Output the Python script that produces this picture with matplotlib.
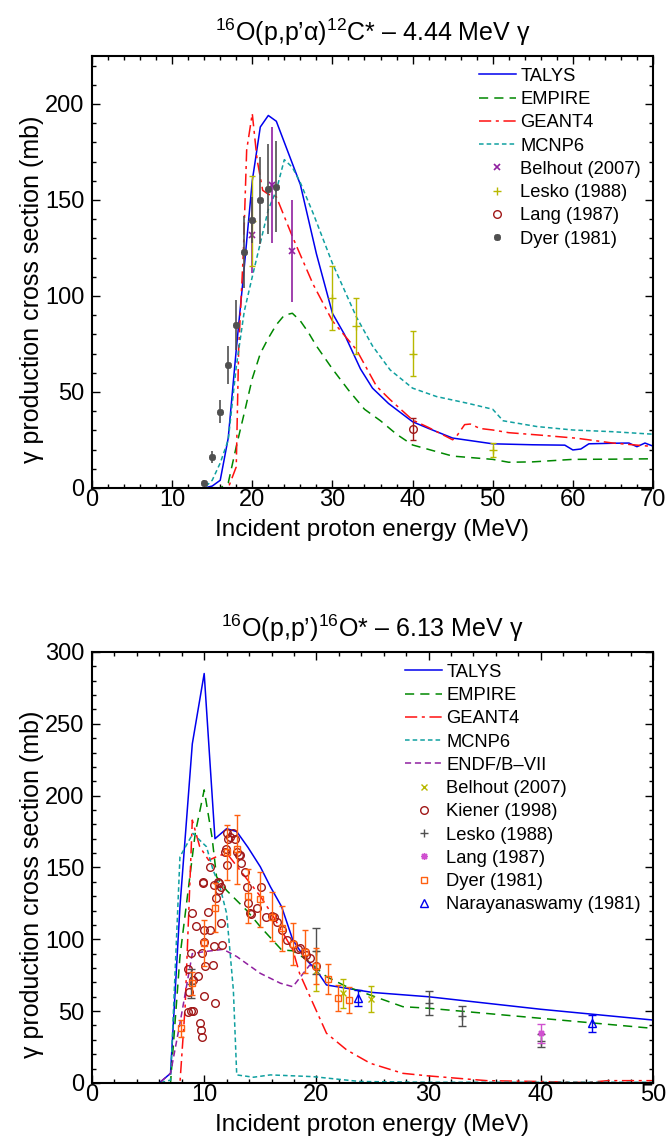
import matplotlib
matplotlib.use("Agg")
import matplotlib.pyplot as plt
from matplotlib.ticker import MultipleLocator

plt.rcParams['font.family'] = ['Liberation Sans', 'DejaVu Sans']
plt.rcParams['mathtext.fontset'] = 'custom'
plt.rcParams['mathtext.rm'] = 'Liberation Sans'
plt.rcParams['mathtext.it'] = 'Liberation Sans:italic'

# ---------------- top panel: 16O(p,p'a)12C* 4.44 MeV ----------------
talys_top_E = [0, 14, 15, 16, 17, 18, 19, 20, 21, 22, 23, 24, 25, 26, 28, 30, 31.5, 33.5, 35, 37, 40,
               42, 45, 50, 55, 59, 60, 61, 62, 65, 67, 68, 69, 70]
talys_top = [0, 0, 1, 4, 26, 72, 115, 160, 188, 194, 191, 180, 169, 158, 122, 91, 80, 62, 52, 44, 34.5,
             31, 26, 23, 22.5, 22.3, 19.8, 20.3, 23, 23.3, 23.4, 21.5, 23.4, 21.8]

empire_top_E = [0, 16, 17, 18, 19, 20, 21, 22, 23, 24, 25, 26, 27, 28, 30, 32, 34, 36, 38, 40, 45, 50,
                52, 55, 60, 65, 70]
empire_top = [0, 0, 2.6, 21.5, 39, 57, 70, 78, 85, 90, 91, 87, 81, 74, 62, 51, 41, 35, 28, 22.4, 16.6,
              14.9, 13.4, 13.6, 14.9, 15, 15.2]

geant_top_E = [0, 17, 18, 18.3, 18.9, 19.3, 20, 20.6, 21.3, 22, 23, 25, 27.6, 30, 33, 35.5, 37.2, 40,
               42, 45, 45.5, 46.5, 47.2, 48.4, 50, 52, 56, 60.5, 65, 70]
geant_top = [0, 0, 11, 72, 124, 176, 195, 171, 155, 153, 151.7, 131, 106, 87, 72, 53, 46, 35.4, 31.5,
             25.1, 27, 33, 33.3, 31, 30.2, 28.8, 27.5, 25.9, 23.4, 21.6]

mcnp_top_E = [0, 14, 15, 16, 17, 18, 19, 20, 21.2, 22, 23, 24, 25, 26, 27.6, 30, 33, 35, 37.2, 40, 43,
              47, 50, 51.3, 55.5, 60, 65, 70]
mcnp_top = [0, 0, 4, 13, 25, 63, 92, 110, 131, 145, 155, 171, 167, 159, 143, 117, 89, 74, 61.5, 52,
            47.6, 44, 41, 35, 32, 30.2, 29.3, 28]

belhout_top_E = [20, 22.5, 25]
belhout_top = [131.8, 157.8, 123.6]
belhout_top_err = [20, 30, 26.6]

lesko_top_E = [20, 30, 33, 40, 50]
lesko_top = [139, 98.8, 84.4, 69.8, 19.8]
lesko_top_err = [23.4, 16.7, 14.5, 11.7, 3.5]

lang_top_E = [40]
lang_top = [30.7]
lang_top_err = [5.8]

dyer_top_E = [14, 15, 16, 17, 18, 19, 20, 21, 22, 23]
dyer_top = [2.8, 16, 39.8, 64, 84.7, 122.7, 139.6, 149.8, 155.6, 157]
dyer_top_err = [1.5, 3, 6, 10, 13, 18.7, 12, 22.6, 23.4, 23.7]

# ---------------- bottom panel: 16O(p,p')16O* 6.13 MeV ----------------
talys_bot_E = [0, 6, 7, 7.84, 8.94, 10, 10.96, 12, 12.9, 13.9, 15, 15.9, 16.9, 17.9, 19.1, 20, 20.9,
               22.7, 25, 30, 40, 50]
talys_bot = [0, 0, 6.7, 122.7, 236, 285, 170, 177, 175, 164, 150.5, 136.6, 122.7, 99.5, 85.6, 78.6,
             68.2, 65.9, 63, 60, 51.3, 43.8]

empire_bot_E = [0, 7, 7.84, 9.2, 10, 10.7, 11.1, 12, 13.8, 15, 16.9, 17.9, 19.1, 20.9, 22.7, 24.8,
                27.7, 30, 40, 50]
empire_bot = [0, 0, 88, 173.7, 204, 171, 143.6, 134, 120, 108.8, 92.6, 92, 86, 74, 67, 61.2, 53.1, 52,
              45, 38]

geant_bot_E = [0, 7.84, 8.3, 8.94, 9.6, 10.4, 11.1, 12, 13.9, 15, 16, 17.9, 18.5, 19.7, 20.9, 22.7,
               24.8, 27.7, 30, 35.2, 40, 44, 46, 50]
geant_bot = [0, 0, 53, 183, 164.5, 155, 157.5, 160, 141, 130, 118, 92.6, 76.3, 55.4, 34.6, 23, 13.7,
             6.7, 4.9, 1.6, 1, 0.3, 1.6, 1.6]

mcnp_bot_E = [0, 6, 7, 7.84, 9.0, 9.6, 10.2, 10.8, 11.4, 12, 12.6, 12.9, 14.4, 15.9, 19.7, 23.9, 30, 50]
mcnp_bot = [0, 0, 2, 157.5, 173.7, 169, 164.5, 148, 136.6, 118, 64.7, 5.6, 4, 5.6, 4.4, 1, 0.5, 0.5]

endf_bot_E = [0, 6, 7, 7.84, 8.94, 10, 11.7, 12.9, 15, 16.8, 17.9, 19.4, 20]
endf_bot = [0, 0, 6.7, 41.5, 90, 91.4, 93, 88, 76.3, 69.4, 67, 82, 80]

belhout_bot_E = [20, 22.4, 24.9]
belhout_bot = [78, 62.4, 58.5]
belhout_bot_err = [14, 10, 9.3]

kiener_E = [8.54, 8.69, 8.84, 8.6, 8.8, 8.94, 8.97, 9.0, 9.24, 9.43, 9.63, 9.7, 9.8, 9.8, 9.86, 9.92,
            9.96, 9.97, 10.0, 10.1, 10.36, 10.5, 10.56, 10.76, 10.9, 10.9, 10.97, 11.06, 11.24, 11.35,
            11.36, 11.5, 11.5, 11.6, 11.86, 11.94, 12.0, 12.06, 12.15, 12.3, 12.6, 12.75, 12.9, 13.1,
            13.2, 13.3, 13.6, 13.8, 13.9, 14.1, 14.2, 14.7, 15.1, 15.5, 16.0, 16.2, 16.5, 16.9, 17.4,
            17.9, 18.4, 18.54, 19.0, 19.1, 19.4, 20.0]
kiener = [49.6, 63.6, 50.3, 79.5, 90.7, 118, 71.7, 50.3, 109.2, 74.4, 41.4, 36.8, 32.2, 90.3, 139.4,
          139.8, 60.6, 106.4, 98.4, 81.6, 119.2, 150.5, 106.4, 82, 137.8, 95.5, 56, 128.7, 140, 139,
          134, 136.7, 111.6, 95.9, 161, 162.6, 174.2, 151.7, 169.6, 171.4, 173.7, 169.6, 161, 158.7,
          158.6, 152.9, 147, 136.2, 125, 118, 117.6, 122, 136.6, 115.3, 116.2, 115.2, 112.3, 106.5,
          99.5, 96.7, 93, 93.7, 91.4, 88.9, 86.8, 81.4]

lesko_bot_E = [8.85, 20, 30, 33, 40]
lesko_bot = [69, 92, 55.5, 46.6, 29.5]
lesko_bot_err = [10, 16, 8.4, 7.1, 4.6]

lang_bot_E = [40]
lang_bot = [34.6]
lang_bot_err = [6.7]

dyer_bot_E = [7.93, 8.94, 9.98, 10.96, 12.0, 12.95, 13.9, 15.0, 16.0, 16.9, 17.9, 19.0, 20.0, 21.0,
              21.95, 22.95]
dyer_bot = [38, 69.4, 97.2, 122, 160.5, 162.8, 130, 127.8, 115.8, 107.6, 96.7, 91.4, 81.4, 72.1,
            58.9, 57.8]
dyer_bot_err = [6, 8, 16, 17, 19, 24, 19, 19, 17, 15.5, 14.5, 15, 12.8, 10.4, 9, 9]

nara_E = [23.7, 44.6]
nara = [58.9, 41.5]
nara_err = [5.6, 6.1]

BLUE = '#0000ee'
GREEN = '#008800'
RED = '#ff1010'
CYAN = '#10a0a0'
PURPLE = '#9020a0'
OLIVE = '#b8b800'
BROWN = '#a01818'
GRAY = '#505050'
MAGENTA = '#d050d0'
ORANGE = '#ff6010'


def points(ax, E, y, err, color, marker, label, ms=5, mfc=None, caps=3, mew=1.0):
    ax.errorbar(E, y, yerr=err, fmt='none', ecolor=color, elinewidth=1.0, capsize=caps, capthick=1.0)
    ax.plot(E, y, linestyle='none', marker=marker, color=color, ms=ms,
            mfc=mfc if mfc is not None else color, mew=mew, label=label)


def style_axes(ax, xmax, ymax, title):
    ax.set_xlim(0, xmax)
    ax.set_ylim(0, ymax)
    ax.xaxis.set_major_locator(MultipleLocator(10))
    ax.xaxis.set_minor_locator(MultipleLocator(2))
    ax.yaxis.set_major_locator(MultipleLocator(50))
    ax.yaxis.set_minor_locator(MultipleLocator(10))
    ax.tick_params(which='both', direction='in', top=True, right=True, labelsize=17, width=1)
    ax.tick_params(which='major', length=6)
    ax.tick_params(which='minor', length=3)
    ax.tick_params(axis='x', which='major', pad=1)
    ax.tick_params(axis='y', which='major', pad=5.5)
    for s in ax.spines.values():
        s.set_linewidth(1.5)
    ax.set_xlabel('Incident proton energy (MeV)', fontsize=17.5)
    ax.xaxis.set_label_coords(0.5, -0.072)
    ax.set_ylabel('γ production cross section (mb)', fontsize=18)
    ax.yaxis.set_label_coords(-0.085, 0.46)
    ax.set_title(title, fontsize=18, pad=11)
    ax.legend(loc='upper right', frameon=False, fontsize=13.2, handlelength=2.0, handletextpad=0.25,
              labelspacing=0.34, borderaxespad=0.25, numpoints=1)


fig = plt.figure(figsize=(6.7, 11.42), dpi=100)
ax1 = fig.add_axes([0.1373, 0.5727, 0.8373, 0.3783])
ax2 = fig.add_axes([0.1373, 0.0517, 0.8373, 0.3774])

# top panel
ax1.plot(talys_top_E, talys_top, color=BLUE, lw=1.1, label='TALYS')
ax1.plot(empire_top_E, empire_top, color=GREEN, lw=1.1, dashes=(6, 4), label='EMPIRE')
ax1.plot(geant_top_E, geant_top, color=RED, lw=1.1, dashes=(8, 3, 2, 3), label='GEANT4')
ax1.plot(mcnp_top_E, mcnp_top, color=CYAN, lw=1.1, dashes=(3, 2), label='MCNP6')
ax1.errorbar(belhout_top_E, belhout_top, yerr=belhout_top_err, fmt='none', ecolor=PURPLE, elinewidth=1.2)
ax1.plot(belhout_top_E, belhout_top, 'x', color=PURPLE, ms=4, mew=1.2, label='Belhout (2007)')
points(ax1, lesko_top_E, lesko_top, lesko_top_err, OLIVE, '+', 'Lesko (1988)', ms=6, caps=2.5)
points(ax1, lang_top_E, lang_top, lang_top_err, BROWN, 'o', 'Lang (1987)', ms=5.5, mfc='none', caps=2.5)
ax1.errorbar(dyer_top_E, dyer_top, yerr=dyer_top_err, fmt='none', ecolor=GRAY, elinewidth=1.2)
ax1.plot(dyer_top_E, dyer_top, linestyle='none', marker=(8, 2, 0), color=GRAY, ms=5, mew=1.3,
         label='Dyer (1981)')
style_axes(ax1, 70, 225,
           r"$^{\mathrm{16}}$O(p,p’α)$^{\mathrm{12}}$C* – 4.44 MeV γ")

# bottom panel
ax2.plot(talys_bot_E, talys_bot, color=BLUE, lw=1.1, label='TALYS')
ax2.plot(empire_bot_E, empire_bot, color=GREEN, lw=1.1, dashes=(6, 4), label='EMPIRE')
ax2.plot(geant_bot_E, geant_bot, color=RED, lw=1.1, dashes=(8, 3, 2, 3), label='GEANT4')
ax2.plot(mcnp_bot_E, mcnp_bot, color=CYAN, lw=1.1, dashes=(3, 2), label='MCNP6')
ax2.plot(endf_bot_E, endf_bot, color=PURPLE, lw=1.1, dashes=(4, 2.5), label='ENDF/B–VII')
points(ax2, belhout_bot_E, belhout_bot, belhout_bot_err, OLIVE, 'x', 'Belhout (2007)', ms=4, caps=2)
ax2.plot(kiener_E, kiener, linestyle='none', marker='o', color=BROWN, ms=5.5, mfc='none', mew=1.0,
         label='Kiener (1998)')
points(ax2, lesko_bot_E, lesko_bot, lesko_bot_err, GRAY, '+', 'Lesko (1988)', ms=6, caps=3)
points(ax2, lang_bot_E, lang_bot, lang_bot_err, MAGENTA, (8, 2, 0), 'Lang (1987)', ms=5, caps=3)
points(ax2, dyer_bot_E, dyer_bot, dyer_bot_err, ORANGE, 's', 'Dyer (1981)', ms=4.5, mfc='none', caps=2)
points(ax2, nara_E, nara, nara_err, BLUE, '^', 'Narayanaswamy (1981)', ms=5.5, mfc='none', caps=3)
style_axes(ax2, 50, 300,
           r"$^{\mathrm{16}}$O(p,p’)$^{\mathrm{16}}$O* – 6.13 MeV γ")

fig.savefig('out.png', dpi=100)
